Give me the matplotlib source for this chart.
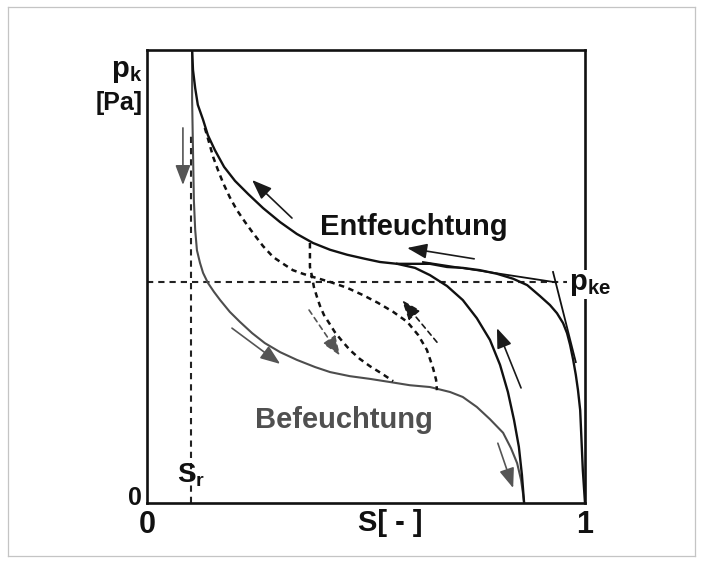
import matplotlib
matplotlib.use("Agg")
import matplotlib.pyplot as plt
from matplotlib.lines import Line2D

plt.rcParams['font.family'] = ['Liberation Sans', 'DejaVu Sans']
plt.rcParams['mathtext.fontset'] = 'custom'
plt.rcParams['mathtext.rm'] = 'Liberation Sans'
plt.rcParams['mathtext.bf'] = 'Liberation Sans:bold'
plt.rcParams['mathtext.it'] = 'Liberation Sans:italic'

# ---------------- data (S [-], normalised p_k) ----------------
# primary drainage curve (from S=1 up to the top)
primary_S = [0.103, 0.105, 0.110, 0.116, 0.128, 0.139, 0.155, 0.176, 0.201, 0.231,
             0.265, 0.304, 0.342, 0.379, 0.418, 0.457, 0.498, 0.532, 0.571, 0.607,
             0.646, 0.685, 0.721, 0.760, 0.799, 0.836, 0.868, 0.897, 0.920, 0.936,
             0.950, 0.959, 0.966, 0.973, 0.979, 0.984, 0.989, 0.991, 0.993, 0.995,
             0.998, 1.000]
primary_p = [1.000, 0.956, 0.916, 0.879, 0.846, 0.812, 0.779, 0.742, 0.711, 0.682,
             0.651, 0.620, 0.594, 0.574, 0.559, 0.548, 0.539, 0.532, 0.528, 0.528,
             0.528, 0.521, 0.519, 0.514, 0.506, 0.495, 0.481, 0.457, 0.437, 0.419,
             0.397, 0.375, 0.349, 0.316, 0.283, 0.249, 0.205, 0.161, 0.117, 0.073,
             0.029, 0.000]

# main drainage branch ending at S_m
main_drain_S = [0.571, 0.612, 0.646, 0.685, 0.721, 0.753, 0.783, 0.806, 0.824,
                0.838, 0.849, 0.856, 0.861]
main_drain_p = [0.528, 0.519, 0.503, 0.479, 0.448, 0.408, 0.360, 0.305, 0.245,
                0.183, 0.124, 0.062, 0.000]

# main imbibition (Befeuchtung)
imbib_S = [0.103, 0.103, 0.105, 0.107, 0.110, 0.114, 0.121, 0.128, 0.139, 0.153,
           0.167, 0.189, 0.212, 0.240, 0.269, 0.304, 0.342, 0.384, 0.418, 0.463,
           0.509, 0.555, 0.600, 0.646, 0.692, 0.721, 0.753, 0.783, 0.813, 0.831,
           0.845, 0.854, 0.858, 0.861]
imbib_p = [0.996, 0.890, 0.779, 0.669, 0.603, 0.558, 0.530, 0.508, 0.486, 0.466,
           0.448, 0.422, 0.400, 0.375, 0.353, 0.333, 0.316, 0.300, 0.289, 0.280,
           0.274, 0.267, 0.260, 0.256, 0.245, 0.234, 0.212, 0.185, 0.155, 0.121,
           0.088, 0.051, 0.024, 0.000]

# scanning curve 1 (drying scan)
scan1_S = [0.132, 0.142, 0.151, 0.162, 0.174, 0.189, 0.205, 0.224, 0.242, 0.265,
           0.288, 0.311, 0.333, 0.356, 0.379, 0.418, 0.457, 0.493, 0.527, 0.562,
           0.594, 0.619, 0.639, 0.653, 0.660, 0.662]
scan1_p = [0.828, 0.795, 0.764, 0.735, 0.706, 0.675, 0.647, 0.620, 0.596, 0.567,
           0.543, 0.528, 0.514, 0.506, 0.499, 0.488, 0.475, 0.459, 0.442, 0.422,
           0.400, 0.371, 0.338, 0.298, 0.272, 0.249]

# scanning curve 2 (wetting scan)
scan2_S = [0.372, 0.372, 0.372, 0.372, 0.377, 0.381, 0.388, 0.395, 0.404, 0.416,
           0.429, 0.445, 0.463, 0.486, 0.509, 0.534, 0.562]
scan2_p = [0.574, 0.567, 0.543, 0.521, 0.499, 0.477, 0.455, 0.435, 0.415, 0.397,
           0.377, 0.358, 0.338, 0.318, 0.302, 0.287, 0.269]

# construction lines
tangent1_S = [0.630, 0.934]
tangent1_p = [0.532, 0.487]
tangent2_S = [0.927, 0.979]
tangent2_p = [0.510, 0.311]
S_r = 0.100
S_r_top = 0.82
p_ke = 0.488
p_ke_end = 0.960

# direction arrows: (S_tail, p_tail, S_tip, p_tip, colour, dashed)
arrows = [
    (0.082, 0.828, 0.082, 0.702, '#555555', False),
    (0.331, 0.629, 0.240, 0.713, '#1a1a1a', False),
    (0.194, 0.386, 0.304, 0.307, '#555555', False),
    (0.747, 0.539, 0.594, 0.563, '#1a1a1a', False),
    (0.854, 0.254, 0.799, 0.386, '#1a1a1a', False),
    (0.801, 0.132, 0.836, 0.033, '#555555', False),
    (0.662, 0.355, 0.582, 0.448, '#1a1a1a', True),
    (0.370, 0.426, 0.441, 0.325, '#555555', True),
]

x_ticks = [0, 1]
x_tick_labels = ['0', '1']
y_tick_label = '0'

# ---------------- figure ----------------
W, H = 702, 567
fig = plt.figure(figsize=(W / 100, H / 100), dpi=100)
fig.patch.set_facecolor('white')

# faint scan border
for xs, ys in [([8, 695], [7, 7]), ([8, 8], [7, 556]), ([695, 695], [7, 556]), ([8, 695], [556, 556])]:
    fig.add_artist(Line2D([x / W for x in xs], [1 - y / H for y in ys], color='#c4c4c4', lw=0.9))

ax = fig.add_axes([147 / W, 1 - 503 / H, 438 / W, 453 / H])
ax.set_xlim(0, 1)
ax.set_ylim(0, 1)
for sp in ax.spines.values():
    sp.set_linewidth(1.9)
    sp.set_color('#111111')

ax.set_xticks(x_ticks)
ax.set_xticklabels(x_tick_labels, fontsize=22, fontweight='bold', color='#111111')
ax.set_yticks([])
ax.tick_params(axis='x', length=0, pad=5)

# construction dashed lines
ax.plot([S_r, S_r], [0, S_r_top], color='#222222', lw=1.5, dashes=(3, 2.4))
ax.plot([0, p_ke_end], [p_ke, p_ke], color='#222222', lw=1.5, dashes=(3, 2.4))

# curves
ax.plot(imbib_S, imbib_p, color='#4d4d4d', lw=1.5, solid_capstyle='butt')
ax.plot(primary_S, primary_p, color='#111111', lw=1.7)
ax.plot(main_drain_S, main_drain_p, color='#111111', lw=1.7)
ax.plot(scan1_S, scan1_p, color='#111111', lw=1.8, dashes=(2.2, 1.8))
ax.plot(scan2_S, scan2_p, color='#111111', lw=1.8, dashes=(2.2, 1.8))
ax.plot(tangent1_S, tangent1_p, color='#111111', lw=1.3)
ax.plot(tangent2_S, tangent2_p, color='#111111', lw=1.3)

for s0, p0, s1, p1, col, dashed in arrows:
    props = dict(arrowstyle='-|>,head_length=1.1,head_width=0.42', mutation_scale=11,
                 lw=1.2, color=col, shrinkA=0, shrinkB=0)
    if dashed:
        props['linestyle'] = (0, (3, 2.5))
    ax.annotate('', xy=(s1, p1), xytext=(s0, p0), arrowprops=props)

# texts
ax.text(0.610, 0.592, 'Entfeuchtung', fontsize=21, fontweight='bold', color='#111111',
        ha='center', va='baseline')
ax.text(0.450, 0.166, 'Befeuchtung', fontsize=21, fontweight='bold', color='#505050',
        ha='center', va='baseline')
ax.text(0.068, 0.046, r'$\mathbf{S_r}$', fontsize=20, color='#111111', ha='left', va='baseline')
ax.text(0.963, 0.470, r'$\mathbf{p_{ke}}$', fontsize=21, color='#111111', ha='left', va='baseline',
        bbox=dict(fc='white', ec='none', pad=0.5), clip_on=False, zorder=5)
ax.text(-0.011, 0.940, r'$\mathbf{p_k}$', fontsize=21, color='#111111', ha='right', va='baseline',
        clip_on=False)
ax.text(-0.009, 0.868, '[Pa]', fontsize=18, fontweight='bold', color='#111111', ha='right',
        va='baseline', clip_on=False)
ax.text(-0.011, 0.011, y_tick_label, fontsize=18, fontweight='bold', color='#111111', ha='right',
        va='center', clip_on=False)
ax.text(0.555, -0.014, 'S[ - ]', fontsize=21, fontweight='bold', color='#111111', ha='center',
        va='top', clip_on=False)

fig.savefig('out.png', dpi=100, facecolor='white')
